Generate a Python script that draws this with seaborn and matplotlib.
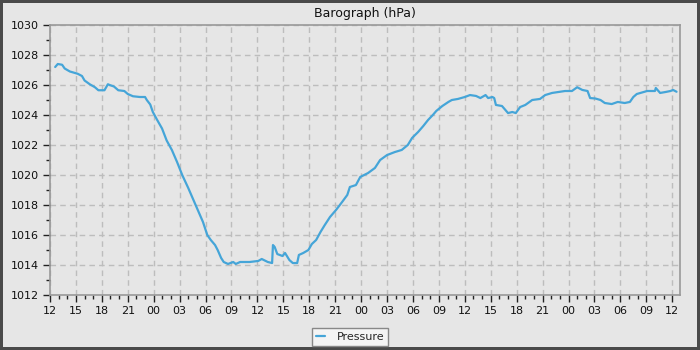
import matplotlib
matplotlib.use("Agg")
import matplotlib.pyplot as plt
import seaborn as sns
import pandas as pd
from matplotlib.ticker import MultipleLocator, FixedLocator

# hours since first 12:00
hours = [0.6, 0.9, 1.4, 1.7, 2.3, 3.2, 3.7, 4.0, 4.6, 5.2, 5.6, 6.3, 6.7, 6.9, 7.4, 7.9,
         8.6, 9.0, 9.6, 10.4, 11.0, 11.2, 11.6, 11.9, 12.4, 12.964, 13.5, 14.1, 14.7, 15.3,
         16.0, 16.6, 17.1, 17.7, 18.2, 18.6, 19.1, 19.4, 19.8, 20.1, 20.6, 21.2, 21.5, 22.0,
         23.1, 24.1, 24.5, 25.2, 25.7, 25.8, 26.0, 26.3, 26.9, 27.2, 27.7, 28.1, 28.6, 28.8,
         29.3, 29.9, 30.3, 30.8, 31.3, 31.8, 32.4, 33.1, 33.8, 34.4, 34.7, 35.4, 35.9, 36.8,
         37.6, 38.2, 39.0, 39.9, 40.7, 41.4, 41.9, 42.6, 43.2, 43.75, 44.3, 44.7, 45.4, 46.1,
         46.5, 47.2, 48.0, 48.6, 49.3, 49.8, 50.4, 50.7, 51.2, 51.4, 51.6, 52.3, 52.7, 53.0,
         53.5, 53.9, 54.4, 55.0, 55.8, 56.7, 57.3, 58.1, 58.8, 59.6, 60.4, 61.0, 61.6, 62.2,
         62.5, 63.1, 63.7, 64.2, 65.0, 65.7, 66.5, 67.1, 67.5, 67.9, 68.5, 69.1, 70.0, 70.1,
         70.6, 71.2, 71.8, 72.1, 72.5]
pressure = [1027.2, 1027.4, 1027.35, 1027.1, 1026.9, 1026.75, 1026.6, 1026.3, 1026.05, 1025.85,
            1025.65, 1025.65, 1026.05, 1026.0, 1025.9, 1025.65, 1025.6, 1025.4, 1025.25, 1025.2,
            1025.2, 1025.0, 1024.7, 1024.2, 1023.67, 1023.1, 1022.3, 1021.67, 1020.87, 1020.0,
            1019.13, 1018.33, 1017.67, 1016.87, 1016.0, 1015.67, 1015.33, 1015.0, 1014.47, 1014.2,
            1014.07, 1014.2, 1014.07, 1014.2, 1014.2, 1014.27, 1014.4, 1014.2, 1014.13, 1015.33,
            1015.2, 1014.73, 1014.6, 1014.8, 1014.33, 1014.13, 1014.13, 1014.67, 1014.8, 1015.0,
            1015.4, 1015.67, 1016.2, 1016.67, 1017.2, 1017.67, 1018.2, 1018.67, 1019.2, 1019.33,
            1019.87, 1020.13, 1020.47, 1021.0, 1021.33, 1021.53, 1021.67, 1022.0, 1022.47, 1022.87,
            1023.27, 1023.67, 1024.0, 1024.27, 1024.6, 1024.87, 1025.0, 1025.07, 1025.2, 1025.33,
            1025.27, 1025.13, 1025.33, 1025.13, 1025.2, 1025.13, 1024.67, 1024.6, 1024.33, 1024.13,
            1024.2, 1024.13, 1024.53, 1024.67, 1025.0, 1025.07, 1025.33, 1025.47, 1025.53, 1025.6,
            1025.6, 1025.85, 1025.67, 1025.6, 1025.13, 1025.1, 1025.0, 1024.8, 1024.73, 1024.87,
            1024.8, 1024.87, 1025.2, 1025.4, 1025.5, 1025.6, 1025.6, 1025.8, 1025.47, 1025.53,
            1025.6, 1025.67, 1025.55]

tick_labels = ["12", "15", "18", "21", "00", "03", "06", "09"] * 3 + ["12"]
tick_hours = [3 * i for i in range(len(tick_labels))]
y_ticks = [1012, 1014, 1016, 1018, 1020, 1022, 1024, 1026, 1028, 1030]

bg = "#e6e6e6"
sns.set_style("white")
plt.rcParams["font.family"] = ["DejaVu Sans"]

fig = plt.figure(figsize=(7, 3.5), dpi=100, facecolor=bg, edgecolor="#4a4a4a", linewidth=4)
ax = fig.add_axes([50 / 700, 1 - 295 / 350, 630 / 700, 270 / 350])
ax.set_facecolor(bg)

df = pd.DataFrame({"hour": hours, "pressure": pressure})
sns.lineplot(data=df, x="hour", y="pressure", ax=ax, color="#45a5d8", linewidth=1.6,
             label="Pressure")

ax.set_xlim(0, 72.9)
ax.set_ylim(1012, 1030)
ax.xaxis.set_major_locator(FixedLocator(tick_hours))
ax.set_xticklabels(tick_labels)
ax.xaxis.set_minor_locator(MultipleLocator(1))
ax.set_yticks(y_ticks)
ax.set_yticklabels([str(v) for v in y_ticks])
ax.yaxis.set_minor_locator(MultipleLocator(1))
ax.tick_params(which="major", direction="out", length=5, width=1, color="#222222",
               labelsize=8, labelcolor="#111111", pad=3)
ax.tick_params(which="minor", direction="out", length=3, width=1, color="#222222")
ax.tick_params(axis="x", which="both", bottom=True)
ax.tick_params(axis="y", which="both", left=True)
ax.grid(True, which="major", linestyle=(0, (4, 3)), color="#bdbdbd", linewidth=1)
for s in ax.spines.values():
    s.set_color("#999999")
    s.set_linewidth(1.2)
ax.set_xlabel("")
ax.set_ylabel("")
ax.set_title("Barograph (hPa)", fontsize=9, color="#111111", pad=6)

leg = ax.legend(loc="center", bbox_to_anchor=(0.5, 13 / 350), bbox_transform=fig.transFigure,
                fancybox=False, frameon=True, fontsize=8, handlelength=0.8, handletextpad=1.1,
                borderpad=0.35, borderaxespad=0)
leg.get_frame().set_edgecolor("#888888")
leg.get_frame().set_facecolor("#f4f4f4")
leg.get_frame().set_alpha(1)
leg.get_frame().set_linewidth(1)

fig.savefig("out.png", dpi=100, facecolor=bg, edgecolor="#4a4a4a")
